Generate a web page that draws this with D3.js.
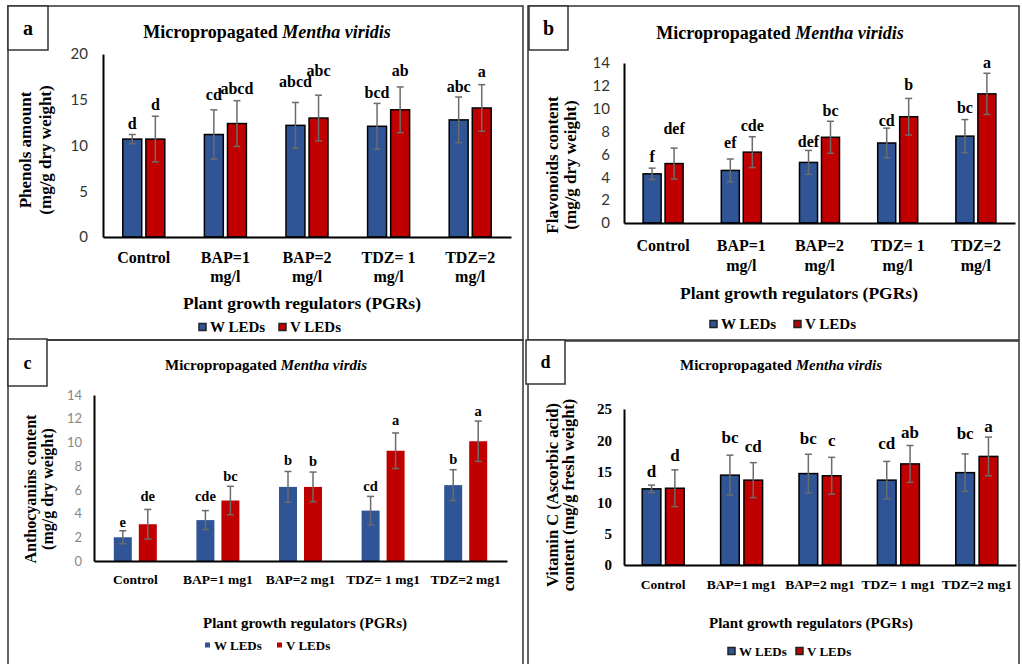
<!DOCTYPE html>
<html>
<head>
<meta charset="utf-8">
<script src="https://cdn.jsdelivr.net/npm/d3@7"></script>
<style>
body { margin: 0; background: #fff; }
svg { display: block; }
</style>
</head>
<body>
<svg width="1022" height="664"></svg>
<script>
// categories
const catsTwoLine = [["Control"], ["BAP=1", "mg/l"], ["BAP=2", "mg/l"], ["TDZ= 1", "mg/l"], ["TDZ=2", "mg/l"]];
const catsOneLine = [["Control"], ["BAP=1 mg1"], ["BAP=2 mg1"], ["TDZ= 1 mg1"], ["TDZ=2 mg1"]];
const seriesNames = ["W LEDs", "V LEDs"];
const seriesColors = ["#2f5597", "#c00000"];

// a: phenols
const phenolsW = [10.7, 11.2, 12.2, 12.1, 12.8];
const phenolsV = [10.7, 12.4, 13.0, 13.9, 14.1];
const phenolsWErr = [0.5, 2.7, 2.5, 2.5, 2.5];
const phenolsVErr = [2.5, 2.5, 2.5, 2.5, 2.55];
const phenolsWLet = ["d", "cd", "abcd", "bcd", "abc"];
const phenolsVLet = ["d", "abcd", "abc", "ab", "a"];

// b: flavonoids
const flavW = [4.3, 4.6, 5.3, 7.0, 7.6];
const flavV = [5.2, 6.2, 7.5, 9.3, 11.3];
const flavWErr = [0.5, 1.0, 1.05, 1.3, 1.45];
const flavVErr = [1.35, 1.35, 1.4, 1.6, 1.8];
const flavWLet = ["f", "ef", "def", "cd", "bc"];
const flavVLet = ["def", "cde", "bc", "b", "a"];

// c: anthocyanins
const anthoW = [2.0, 3.45, 6.25, 4.25, 6.4];
const anthoV = [3.1, 5.1, 6.25, 9.3, 10.1];
const anthoWErr = [0.55, 0.8, 1.3, 1.2, 1.3];
const anthoVErr = [1.25, 1.2, 1.25, 1.5, 1.7];
const anthoWLet = ["e", "cde", "b", "cd", "b"];
const anthoVLet = ["de", "bc", "b", "a", "a"];

// d: vitamin C
const vitW = [12.2, 14.4, 14.65, 13.6, 14.8];
const vitV = [12.3, 13.6, 14.3, 16.2, 17.4];
const vitWErr = [0.6, 3.2, 3.1, 3.0, 3.0];
const vitVErr = [2.95, 2.8, 2.95, 2.95, 3.1];
const vitWLet = ["d", "bc", "bc", "cd", "bc"];
const vitVLet = ["d", "cd", "c", "ab", "a"];

const serif = '"Liberation Serif","Times New Roman",serif';
const sans = 'Lato,"Open Sans",sans-serif';
const svg = d3.select('svg');

// panel frames
svg.append('g').selectAll('rect')
	.data([[8, 6, 515, 334], [528, 6, 491, 334], [8, 340, 515, 340], [528, 341, 491, 340]])
	.enter().append('rect')
	.attr('x', d => d[0]).attr('y', d => d[1]).attr('width', d => d[2]).attr('height', d => d[3])
	.attr('fill', 'none').attr('stroke', '#333').attr('stroke-width', 1.5);

function drawPanel(p) {
	const g = svg.append('g');
	const y = d3.scaleLinear().domain([0, p.yMax]).range([p.bottom, p.top]);
	const x0 = d3.scaleBand().domain(d3.range(p.cats.length)).range([p.left, p.right]);
	const bw = x0.bandwidth();
	const x1 = d3.scaleBand().domain([0, 1]).range([bw / 2 - p.half, bw / 2 + p.half]).paddingInner(p.gap);

	// label box
	g.append('rect').attr('x', p.box[0]).attr('y', p.box[1]).attr('width', p.box[2]).attr('height', p.box[3])
		.attr('fill', '#fff').attr('stroke', '#333').attr('stroke-width', 1.5);
	g.append('text').attr('x', p.box[0] + p.box[2] / 2).attr('y', p.box[1] + p.box[3] / 2)
		.attr('text-anchor', 'middle').attr('dominant-baseline', 'central')
		.attr('font-family', serif).attr('font-weight', 'bold').attr('font-size', p.boxSize)
		.text(p.id);

	// title
	const t = g.append('text').attr('x', p.title[0]).attr('y', p.title[1])
		.attr('text-anchor', 'middle').attr('dominant-baseline', 'central')
		.attr('font-family', serif).attr('font-weight', 'bold').attr('font-size', p.titleSize);
	t.append('tspan').text('Micropropagated ');
	t.append('tspan').attr('font-style', 'italic').text(p.species);

	// y axis
	g.append('g').attr('transform', `translate(${p.left},0)`)
		.call(d3.axisLeft(y).tickValues(d3.range(0, p.yMax + 0.01, p.yStep)).tickSize(0).tickSizeOuter(0).tickPadding(p.tickPad))
		.call(s => s.select('.domain').attr('stroke', '#000').attr('stroke-width', 2))
		.selectAll('text')
		.attr('font-family', p.tickFont).attr('font-size', p.tickSize)
		.attr('font-weight', p.tickWeight).attr('fill', p.tickColor);

	// y title
	p.yTitle.forEach((line, k) => {
		g.append('text')
			.attr('transform', `translate(${p.yTitleX[k]},${p.yTitleY}) rotate(-90)`)
			.attr('text-anchor', 'middle').attr('dominant-baseline', 'central')
			.attr('font-family', serif).attr('font-weight', 'bold').attr('font-size', p.yTitleSize)
			.text(line);
	});

	// bars
	const rows = p.cats.map((c, i) => ({ i, vals: [p.w[i], p.v[i]], errs: [p.we[i], p.ve[i]], lets: [p.wl[i], p.vl[i]] }));
	const grp = g.selectAll('g.cat').data(rows).enter().append('g')
		.attr('class', 'cat')
		.attr('transform', d => `translate(${x0(d.i)},0)`);
	const items = grp.selectAll('g.bar')
		.data(d => d.vals.map((v, s) => ({ i: d.i, s, v, e: d.errs[s], l: d.lets[s] })))
		.enter().append('g').attr('class', 'bar');
	items.append('rect')
		.attr('x', d => x1(d.s))
		.attr('y', d => y(d.v))
		.attr('width', x1.bandwidth())
		.attr('height', d => p.bottom - y(d.v))
		.attr('fill', d => seriesColors[d.s])
		.attr('stroke', p.barStroke ? '#000' : 'none')
		.attr('stroke-width', 1.5);
	const cx = d => x1(d.s) + x1.bandwidth() / 2;
	items.append('line')
		.attr('x1', cx).attr('x2', cx)
		.attr('y1', d => y(d.v + d.e)).attr('y2', d => y(d.v - d.e))
		.attr('stroke', '#6b6b6b').attr('stroke-width', 1.5);
	items.append('line')
		.attr('x1', d => cx(d) - 3.5).attr('x2', d => cx(d) + 3.5)
		.attr('y1', d => y(d.v + d.e)).attr('y2', d => y(d.v + d.e))
		.attr('stroke', '#6b6b6b').attr('stroke-width', 1.5);
	items.append('line')
		.attr('x1', d => cx(d) - 3.5).attr('x2', d => cx(d) + 3.5)
		.attr('y1', d => y(d.v - d.e)).attr('y2', d => y(d.v - d.e))
		.attr('stroke', '#6b6b6b').attr('stroke-width', 1.5);
	// significance letters, each lifted by its own gap above the error cap
	items.append('text')
		.attr('x', cx).attr('y', d => y(d.v + d.e) - p.letGap[d.s][d.i])
		.attr('text-anchor', 'middle')
		.attr('font-family', serif).attr('font-weight', 'bold').attr('font-size', p.letSize)
		.text(d => d.l);

	// x axis
	g.append('g').attr('transform', `translate(0,${p.bottom})`)
		.call(d3.axisBottom(x0).tickSize(0).tickSizeOuter(0).tickFormat(''))
		.call(s => s.select('.domain').attr('stroke', '#000').attr('stroke-width', 2));
	p.cats.forEach((lines, i) => {
		const tx = g.append('text').attr('x', x0(i) + bw / 2)
			.attr('text-anchor', 'middle').attr('dominant-baseline', 'central')
			.attr('font-family', serif).attr('font-weight', 'bold').attr('font-size', p.catSize);
		lines.forEach((ln, k) => tx.append('tspan').attr('x', x0(i) + bw / 2).attr('y', p.catY[k]).text(ln));
	});
	g.append('text').attr('x', p.xTitle[0]).attr('y', p.xTitle[1])
		.attr('text-anchor', 'middle').attr('dominant-baseline', 'central')
		.attr('font-family', serif).attr('font-weight', 'bold').attr('font-size', p.xTitleSize)
		.text('Plant growth regulators (PGRs)');

	// legend
	seriesNames.forEach((name, s) => {
		const lx = p.legX[s];
		g.append('rect').attr('x', lx).attr('y', p.legY - p.legSq / 2)
			.attr('width', p.legSq).attr('height', p.legSq)
			.attr('fill', seriesColors[s])
			.attr('stroke', p.barStroke ? '#222' : 'none').attr('stroke-width', 1.5);
		g.append('text').attr('x', lx + p.legSq + 4).attr('y', p.legY)
			.attr('dominant-baseline', 'central')
			.attr('font-family', serif).attr('font-weight', 'bold').attr('font-size', p.legSize)
			.text(name);
	});
}

drawPanel({
	id: 'a', box: [8, 6, 40, 44], boxSize: 20, species: 'Mentha viridis',
	title: [267, 32], titleSize: 18,
	left: 103, right: 511, top: 54, bottom: 237, yMax: 20, yStep: 5,
	half: 21, gap: 0.18, barStroke: true,
	tickPad: 15, tickFont: sans, tickSize: 15, tickWeight: 'normal', tickColor: '#333',
	yTitle: ['Phenols amount', '(mg/g dry weight)'], yTitleX: [25, 45], yTitleY: 150, yTitleSize: 17,
	cats: catsTwoLine, catY: [257, 276], catSize: 16,
	xTitle: [302, 303], xTitleSize: 17.5,
	legX: [199, 279], legY: 327, legSq: 7, legSize: 15,
	letSize: 16, letGap: [[6, 10, 15, 5, 5], [6, 7, 19, 11, 8]],
	w: phenolsW, v: phenolsV, we: phenolsWErr, ve: phenolsVErr, wl: phenolsWLet, vl: phenolsVLet
});

drawPanel({
	id: 'b', box: [529, 6, 39, 44], boxSize: 20, species: 'Mentha viridis',
	title: [780, 33], titleSize: 18,
	left: 624, right: 1015, top: 63, bottom: 223, yMax: 14, yStep: 2,
	half: 20, gap: 0.18, barStroke: true,
	tickPad: 14, tickFont: sans, tickSize: 15, tickWeight: 'normal', tickColor: '#333',
	yTitle: ['Flavonoids content', '(mg/g dry weight)'], yTitleX: [552, 570], yTitleY: 165, yTitleSize: 17,
	cats: catsTwoLine, catY: [245, 265], catSize: 16,
	xTitle: [799, 293], xTitleSize: 17.5,
	legX: [710, 794], legY: 324, legSq: 7, legSize: 15,
	letSize: 16, letGap: [[6, 11, 3, 2, 7], [14, 6, 5, 8, 5]],
	w: flavW, v: flavV, we: flavWErr, ve: flavVErr, wl: flavWLet, vl: flavVLet
});

drawPanel({
	id: 'c', box: [8, 339, 39, 47], boxSize: 18, species: 'Mentha virdis',
	title: [266, 365], titleSize: 15,
	left: 94, right: 507, top: 395, bottom: 561, yMax: 14, yStep: 2,
	half: 21.5, gap: 0.28, barStroke: false,
	tickPad: 12, tickFont: sans, tickSize: 13, tickWeight: 'normal', tickColor: '#888',
	yTitle: ['Anthocyanins content', '(mg/g dry weight)'], yTitleX: [30, 47], yTitleY: 489, yTitleSize: 16,
	cats: catsOneLine, catY: [579], catSize: 13.5,
	xTitle: [305, 623], xTitleSize: 15,
	legX: [205, 277], legY: 645, legSq: 5, legSize: 13,
	letSize: 14.5, letGap: [[4, 10, 6, 5, 6], [8, 5, 6, 8, 5]],
	w: anthoW, v: anthoV, we: anthoWErr, ve: anthoVErr, wl: anthoWLet, vl: anthoVLet
});

drawPanel({
	id: 'd', box: [526, 340, 39, 44], boxSize: 18, species: 'Mentha virdis',
	title: [781, 365], titleSize: 15,
	left: 624, right: 1016, top: 409, bottom: 565, yMax: 25, yStep: 5,
	half: 21, gap: 0.2, barStroke: true,
	tickPad: 12, tickFont: serif, tickSize: 15, tickWeight: 'bold', tickColor: '#000',
	yTitle: ['Vitamin C (Ascorbic acid)', 'content (mg/g fresh weight)'], yTitleX: [552, 568], yTitleY: 495, yTitleSize: 16.5,
	cats: catsOneLine, catY: [584], catSize: 13.5,
	xTitle: [811, 623], xTitleSize: 15,
	legX: [728, 796], legY: 651, legSq: 7, legSize: 13,
	letSize: 17, letGap: [[8, 12, 10, 12, 15], [9, 11, 11, 8, 5]],
	w: vitW, v: vitV, we: vitWErr, ve: vitVErr, wl: vitWLet, vl: vitVLet
});
</script>
</body>
</html>
